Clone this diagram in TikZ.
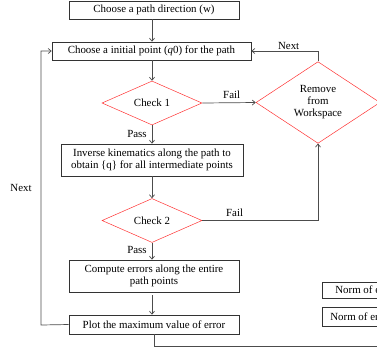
\documentclass[tikz,border=0pt]{standalone}
\usepackage{fontspec}
\setmainfont{Liberation Serif}
\usetikzlibrary{shapes.geometric,arrows.meta}
\begin{document}
\begin{tikzpicture}[x=1pt,y=-1pt,
  font=\fontsize{10.9}{12}\selectfont,
  box/.style={draw=black!80,line width=0.6pt,inner sep=1pt,align=center},
  dec/.style={draw=red!80,line width=0.5pt,shape=diamond,inner sep=0pt,align=center},
  conn/.style={draw=black!70,line width=0.7pt},
  arr/.style={conn,-{Straight Barb[length=3pt,width=5pt]}},
  lbl/.style={inner sep=1pt}]
\useasboundingbox (0,0) rectangle (377,349);
\clip (0,0) rectangle (377,349);
\node[box,minimum width=170pt,minimum height=18pt] (b1) at (154,10) {Choose a path direction (w)};
\node[box,minimum width=199pt,minimum height=18pt] (b2) at (151.5,51) {Choose a initial point (\textit{q}0) for the path};
\node[dec,minimum width=100pt,minimum height=44pt] (c1) at (152,103) {Check 1};
\node[dec,minimum width=124pt,minimum height=63pt] (rm) at (318,102.5) {Remove\\from\\Workspace};
\node[box,minimum width=182pt,minimum height=32pt] (b3) at (152,160) {Inverse kinematics along the path to\\obtain \{q\} for all intermediate points};
\node[dec,minimum width=100pt,minimum height=44pt] (c2) at (152,220.5) {Check 2};
\node[box,minimum width=170pt,minimum height=32pt] (b4) at (154,276) {Compute errors along the entire\\path points};
\node[box,minimum width=170pt,minimum height=19pt] (b5) at (154,324.5) {Plot the maximum value of error};
\node[box,minimum height=16pt,anchor=west] (n1) at (322,290) {\hspace*{12pt}Norm of error\hspace*{8pt}};
\node[box,minimum height=19pt,anchor=west] (n2) at (322,316.5) {\hspace*{7pt}Norm of error\hspace*{8pt}};
\coordinate (lt) at (41,325);
\coordinate (lb) at (41,51);
\coordinate (d1) at (154,346);
\coordinate (d2) at (390,346);
\draw[arr] (b1.south -| 152,0) -- (b2.north -| 152,0);
\draw[arr] (b2.south -| 152,0) -- (c1.north);
\draw[arr] (c1.east) -- node[lbl,above=3pt,pos=0.55] {Fail} (rm.west);
\draw[arr] (rm.north) |- node[lbl,pos=0.72,above] {Next} (b2.east);
\draw[arr] (c1.south) -- node[lbl,left=4pt,pos=0.45] {Pass} (b3.north -| c1.south);
\draw[arr] (b3.south) -- (c2.north);
\draw[arr] (c2.east) -| node[lbl,pos=0.14,above=3pt] {Fail} (rm.south);
\draw[arr] (c2.south) -- node[lbl,left=4pt,pos=0.45] {Pass} (b4.north -| c2.south);
\draw[arr] (b4.south -| 152,0) ++(0,3) -- (b5.north -| 152,0);
\draw[arr] (b5.west) -- (lt) -- node[lbl,pos=0.5,left=8pt] {Next} (lb) -- (b2.west);
\draw[conn] (b5.south) -- (d1) -- (d2);
\end{tikzpicture}
\end{document}
